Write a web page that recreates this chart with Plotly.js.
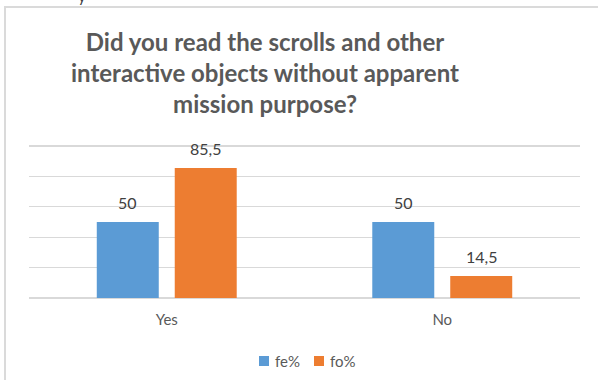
<!DOCTYPE html>
<html>
<head>
<meta charset="utf-8">
<script src="https://cdn.plot.ly/plotly-3.0.1.min.js"></script>
<style>
  html, body { margin: 0; padding: 0; background: #fff; overflow: hidden; width: 598px; height: 380px; }
  #frame { position: absolute; left: 4px; top: 6px; width: 620px; height: 400px; border: 2px solid #dadada; box-sizing: border-box; }
  #chart { position: absolute; left: 6px; top: 8px; width: 592px; height: 372px; }
  #frag { position: absolute; left: 78px; top: -13px; font-family: Lato, sans-serif; font-size: 15px; color: #404040; }
</style>
</head>
<body>
<div id="frag">y</div>
<div id="frame"></div>
<div id="chart"></div>
<script>
const categories = ["Yes", "No"];
const seriesNames = ["fe%", "fo%"];
const feValues = [50, 50];
const foValues = [85.5, 14.5];
const colors = ["#5B9BD5", "#ED7D31"];
const titleText = "Did you read the scrolls and other<br>interactive objects without apparent<br>mission purpose?";

function fmt(v) { return String(v).replace(".", ","); }

const allSeries = [feValues, foValues];
const traces = allSeries.map((vals, i) => ({
  type: "bar",
  name: seriesNames[i],
  x: categories,
  y: vals,
  marker: { color: colors[i], line: { width: 0 } },
  hoverinfo: "none",
  showlegend: false
}));

// plot-area size in pixels (used to place the custom legend)
const PW = 551, PH = 155;
const px = p => p / PW;           // pixels from plot left -> paper
const py = p => -p / PH;          // pixels below plot bottom -> paper

const shifts = [-39, 39];
const annotations = [];
allSeries.forEach((vals, i) => {
  vals.forEach((v, j) => {
    annotations.push({
      x: categories[j], y: v, xref: "x", yref: "y",
      text: fmt(v), showarrow: false,
      xanchor: "center", yanchor: "bottom",
      xshift: shifts[i], yshift: 8,
      font: { family: "Lato, sans-serif", size: 16, color: "#404040" }
    });
  });
});

// custom legend
const legendSquareLeft = [230, 285];
const shapes = [];
seriesNames.forEach((name, i) => {
  shapes.push({
    type: "rect", xref: "paper", yref: "paper",
    x0: px(legendSquareLeft[i]), x1: px(legendSquareLeft[i] + 10),
    y0: py(58), y1: py(68),
    fillcolor: colors[i], line: { width: 0 }
  });
  annotations.push({
    x: px(legendSquareLeft[i] + 14), y: py(63), xref: "paper", yref: "paper",
    text: name, showarrow: false, xanchor: "left", yanchor: "middle",
    font: { family: "Lato, sans-serif", size: 15, color: "#595959" }
  });
});

const layout = {
  width: 592, height: 372,
  margin: { l: 23, r: 18, t: 135, b: 82, pad: 0, autoexpand: false },
  paper_bgcolor: "#fff", plot_bgcolor: "#fff",
  title: {
    text: titleText,
    x: 0.4375, xref: "container", xanchor: "center",
    y: 0.885, yref: "container", yanchor: "top",
    font: { family: "Lato, sans-serif", size: 24, color: "#595959", weight: "bold" }
  },
  barmode: "group",
  bargap: 0.434,
  bargroupgap: 0.205,
  xaxis: {
    type: "category",
    showgrid: false, zeroline: false,
    showline: false, ticks: "",
    automargin: false,
    ticklabelstandoff: 11,
    tickfont: { family: "Lato, sans-serif", size: 15, color: "#595959" }
  },
  yaxis: {
    range: [0, 102], dtick: 20, tick0: 0,
    showticklabels: false, ticks: "",
    automargin: false,
    showgrid: true, gridcolor: "#d9d9d9", gridwidth: 1.3,
    zeroline: true, zerolinecolor: "#d9d9d9", zerolinewidth: 1.3,
    showline: false
  },
  showlegend: false,
  shapes: shapes,
  annotations: annotations
};

Plotly.newPlot("chart", traces, layout, { displayModeBar: false, staticPlot: true });
</script>
</body>
</html>
